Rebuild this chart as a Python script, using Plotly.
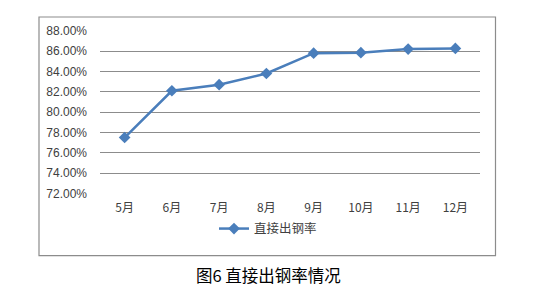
import plotly.graph_objects as go

months = ["5月", "6月", "7月", "8月", "9月", "10月", "11月", "12月"]
rate = [77.5, 82.1, 82.7, 83.8, 85.8, 85.85, 86.2, 86.27]
series_name = "直接出钢率"
caption = "图6 直接出钢率情况"
y_ticks = [72, 74, 76, 78, 80, 82, 84, 86, 88]

W, H = 538, 295
px = lambda v: v / W
py = lambda v: 1 - v / H

fig = go.Figure()
fig.add_trace(go.Scatter(
    x=months, y=rate, name=series_name, mode="lines+markers",
    line=dict(color="#4A7EBB", width=2.5),
    marker=dict(symbol="diamond", size=9, color="#4A7EBB"),
))

fig.update_layout(
    width=W, height=H,
    margin=dict(l=0, r=0, t=0, b=0),
    paper_bgcolor="white", plot_bgcolor="white",
    showlegend=True,
    legend=dict(orientation="h", x=px(268), xanchor="center", y=py(233), yanchor="middle",
                font=dict(family="Noto Sans CJK SC", size=12.5, color="#404040"),
                itemwidth=30, bgcolor="rgba(0,0,0,0)", tracegroupgap=0),
    xaxis=dict(domain=[px(100), px(480)], type="category", showgrid=False, showline=False,
               ticks="", ticklabelstandoff=6,
               tickfont=dict(family="Noto Sans CJK SC", size=12, color="#404040"),
               zeroline=False, fixedrange=True),
    yaxis=dict(domain=[py(195.7), py(25)], range=[72, 88], tickvals=y_ticks,
               ticktext=[f"{v:.2f}%" for v in y_ticks],
               showgrid=True, gridcolor="#8C8C8C", gridwidth=1, showline=False, zeroline=False,
               ticks="", ticklabelstandoff=12,
               tickfont=dict(family="Liberation Sans", size=12, color="#404040")),
    shapes=[dict(type="rect", xref="paper", yref="paper",
                 x0=px(39), x1=px(495.5), y0=py(261), y1=py(10.5),
                 line=dict(color="#8C8C8C", width=1.2), fillcolor="rgba(0,0,0,0)", layer="below")],
    annotations=[dict(text=caption, xref="paper", yref="paper", x=px(268), y=py(281),
                      xanchor="center", yanchor="middle", showarrow=False,
                      font=dict(family="Noto Sans CJK SC", size=16.5, color="black"))],
)

fig.write_html("out.html")
